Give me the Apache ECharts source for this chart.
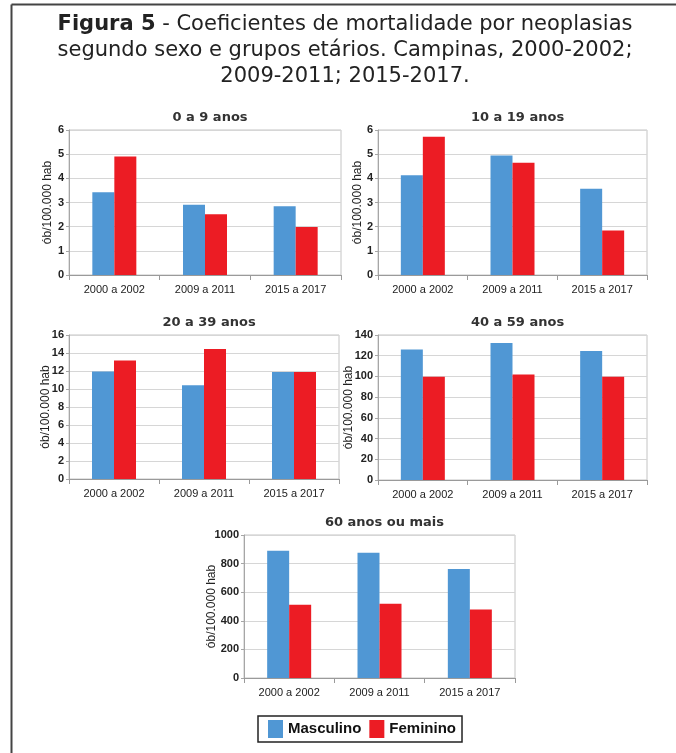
<!DOCTYPE html>
<html>
<head>
<meta charset="utf-8">
<script src="https://cdn.jsdelivr.net/npm/echarts@6/dist/echarts.min.js"></script>
<style>
  html, body { margin: 0; padding: 0; background: #fff; }
  #chart { width: 676px; height: 753px; }
</style>
</head>
<body>
<div id="chart"></div>
<script>
// Periods on the x axis of every panel
const periodos = ['2000 a 2002', '2009 a 2011', '2015 a 2017'];

// Age groups (one panel each)
const faixas = ['0 a 9 anos', '10 a 19 anos', '20 a 39 anos', '40 a 59 anos', '60 anos ou mais'];

// Mortality coefficients (deaths per 100,000 inhabitants), male
const masc_0_9   = [3.42, 2.91, 2.85];
const masc_10_19 = [4.13, 4.95, 3.57];
const masc_20_39 = [11.95, 10.42, 11.9];
const masc_40_59 = [126, 132.3, 124.5];
const masc_60    = [890, 876, 762];

// Mortality coefficients, female
const fem_0_9    = [4.9, 2.51, 1.99];
const fem_10_19  = [5.72, 4.65, 1.84];
const fem_20_39  = [13.18, 14.45, 11.9];
const fem_40_59  = [99.6, 101.8, 99.6];
const fem_60     = [512, 519, 479];

// Y axis scale per panel
const yMax  = [6, 6, 16, 140, 1000];
const yStep = [1, 1, 2, 20, 200];

const masculino = [masc_0_9, masc_10_19, masc_20_39, masc_40_59, masc_60];
const feminino  = [fem_0_9, fem_10_19, fem_20_39, fem_40_59, fem_60];

// Plot-area boxes of the five panels
const boxes = [
  { left: 69,  top: 130, width: 272, height: 145, nameGap: 15 },
  { left: 378, top: 130, width: 269, height: 145, nameGap: 14 },
  { left: 69,  top: 335, width: 270, height: 144, nameGap: 17 },
  { left: 378, top: 335, width: 269, height: 145, nameGap: 23 },
  { left: 244, top: 535, width: 271, height: 143, nameGap: 26 }
];

const AZUL = '#5097d4';
const VERMELHO = '#ec1c24';

const grids = [], xAxes = [], yAxes = [], series = [], titles = [];

boxes.forEach((b, i) => {
  grids.push({
    left: b.left, top: b.top, width: b.width, height: b.height,
    show: true, borderColor: '#c4c4c4', borderWidth: 1, containLabel: false
  });
  titles.push({
    text: faixas[i],
    left: b.left + b.width / 2,
    top: b.top - 24,
    textAlign: 'center',
    textStyle: { fontFamily: 'DejaVu Sans', fontWeight: 'bold', fontSize: 13, color: '#333' }
  });
  xAxes.push({
    type: 'category', gridIndex: i, data: periodos,
    axisLine: { show: true, lineStyle: { color: '#9a9a9a', width: 1 } },
    axisTick: { show: true, length: 5, lineStyle: { color: '#9a9a9a' } },
    axisLabel: { fontFamily: 'Liberation Sans', fontSize: 11, color: '#222', margin: 9 }
  });
  yAxes.push({
    type: 'value', gridIndex: i, min: 0, max: yMax[i], interval: yStep[i],
    name: 'ób/100.000 hab', nameLocation: 'middle', nameGap: b.nameGap,
    nameMoveOverlap: false,
    nameTextStyle: { fontFamily: 'Liberation Sans', fontSize: 12, color: '#222' },
    axisLine: { show: true, lineStyle: { color: '#a6a6a6', width: 1 } },
    axisTick: { show: true, length: 3, lineStyle: { color: '#a6a6a6' } },
    axisLabel: {
      fontFamily: 'Liberation Sans', fontWeight: 'bold', fontSize: 11, color: '#222', margin: 5,
      formatter: v => String(v)
    },
    splitLine: { show: true, lineStyle: { color: '#d6d6d6', width: 1 } }
  });
  series.push({
    name: 'Masculino', type: 'bar', xAxisIndex: i, yAxisIndex: i,
    data: masculino[i], barWidth: 22, barGap: '0%',
    itemStyle: { color: AZUL }
  });
  series.push({
    name: 'Feminino', type: 'bar', xAxisIndex: i, yAxisIndex: i,
    data: feminino[i], barWidth: 22, barGap: '0%',
    itemStyle: { color: VERMELHO }
  });
});

const chart = echarts.init(document.getElementById('chart'), null, { renderer: 'canvas' });

chart.setOption({
  animation: false,
  backgroundColor: '#fff',
  title: titles,
  grid: grids,
  xAxis: xAxes,
  yAxis: yAxes,
  series: series,
  legend: {
    data: ['Masculino', 'Feminino'],
    left: 258, top: 716,
    orient: 'horizontal',
    icon: 'rect',
    itemWidth: 15, itemHeight: 18, itemGap: 8,
    padding: [4, 6, 4, 10],
    borderColor: '#222', borderWidth: 1.5,
    textStyle: { fontFamily: 'Liberation Sans', fontWeight: 'bold', fontSize: 15, color: '#111' }
  },
  graphic: [
    // frame around the figure (top and left edges)
    { type: 'line', shape: { x1: 11.5, y1: 4.5, x2: 676, y2: 4.5 }, style: { stroke: '#444', lineWidth: 2 } },
    { type: 'line', shape: { x1: 11.5, y1: 4.5, x2: 11.5, y2: 753 }, style: { stroke: '#444', lineWidth: 2 } },
    // figure caption
    {
      type: 'text', x: 345, y: 12,
      style: {
        text: '{b|Figura 5} - Coeficientes de mortalidade por neoplasias\nsegundo sexo e grupos etários. Campinas, 2000-2002;\n2009-2011; 2015-2017.',
        textAlign: 'center',
        fill: '#222',
        font: '21px "DejaVu Sans"',
        lineHeight: 26,
        rich: {
          b: { fontFamily: 'DejaVu Sans', fontWeight: 'bold', fontSize: 21, lineHeight: 26, fill: '#222' }
        }
      }
    }
  ]
});
</script>
</body>
</html>
